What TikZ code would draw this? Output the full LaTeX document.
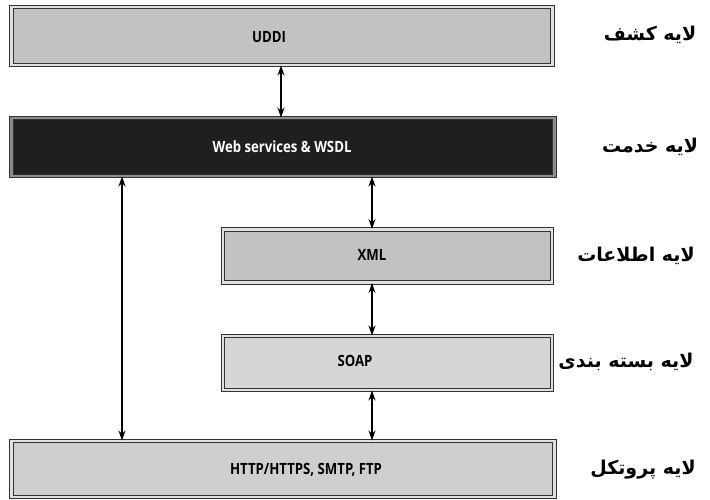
\documentclass[tikz,border=0pt]{standalone}
\usepackage{fontspec}
\setmainfont{Open Sans}
\newfontfamily\boxfont[FakeStretch=0.85]{Open Sans}
\newfontfamily\arabicfont[Script=Arabic]{DejaVu Sans}
\TeXXeTstate=1
\usetikzlibrary{arrows.meta}
\begin{document}
\begin{tikzpicture}[x=1pt,y=-1pt,
  layerbox/.style={draw=black!80, double=black!12, double distance=2.5pt, line width=1pt,
    fill=black!24, inner sep=0pt},
  darkbox/.style={layerbox, fill=black!88, double=black!45},
  boxtext/.style={font=\boxfont\bfseries\fontsize{15.5}{18}\selectfont},
  lbl/.style={font=\arabicfont\bfseries\fontsize{19}{22}\selectfont, anchor=center},
  conn/.style={{Stealth[length=10pt,width=7pt]}-{Stealth[length=10pt,width=7pt]}, line width=1.2pt, black}]
\useasboundingbox (0,0) rectangle (710,499);
\fill[white] (0,0) rectangle (710,499);
% boxes
\node[layerbox, minimum width=541pt, minimum height=58pt] (uddi) at (282,36) {};
\node[boxtext] (uddit) at (269,37) {UDDI};
\node[darkbox, minimum width=543pt, minimum height=58pt] (ws) at (283,147) {};
\node[boxtext, text=white] (wst) at (282,147) {Web services \& WSDL};
\node[layerbox, minimum width=329pt, minimum height=53pt] (xml) at (387.5,256) {};
\node[boxtext] (xmlt) at (372,255) {XML};
\node[layerbox, fill=black!16, minimum width=329pt, minimum height=54pt] (soap) at (387.5,363) {};
\node[boxtext] (soapt) at (355,361) {SOAP};
\node[layerbox, fill=black!19, minimum width=543pt, minimum height=56pt] (http) at (283,469) {};
\node[boxtext] (httpt) at (306,470) {HTTP/HTTPS, SMTP, FTP};
% connectors
\draw[conn] (uddi.south -| 281,0) -- (ws.north -| 281,0);
\draw[conn] (ws.south -| 122,0) -- (http.north -| 122,0);
\draw[conn] (ws.south -| 372,0) -- (xml.north -| 372,0);
\draw[conn] (xml.south -| 372,0) -- (soap.north -| 372,0);
\draw[conn] (soap.south -| 372,0) -- (http.north -| 372,0);
% labels
\node[lbl] (l1) at (650,35) {\beginR لایه کشف\endR};
\node[lbl] (l2) at (650,147) {\beginR لایه خدمت\endR};
\node[lbl] (l3) at (636,256) {\beginR لایه اطلاعات\endR};
\node[lbl] (l4) at (626,362) {\beginR لایه بسته بندی\endR};
\node[lbl] (l5) at (643,470) {\beginR لایه پروتکل\endR};
\end{tikzpicture}
\end{document}
